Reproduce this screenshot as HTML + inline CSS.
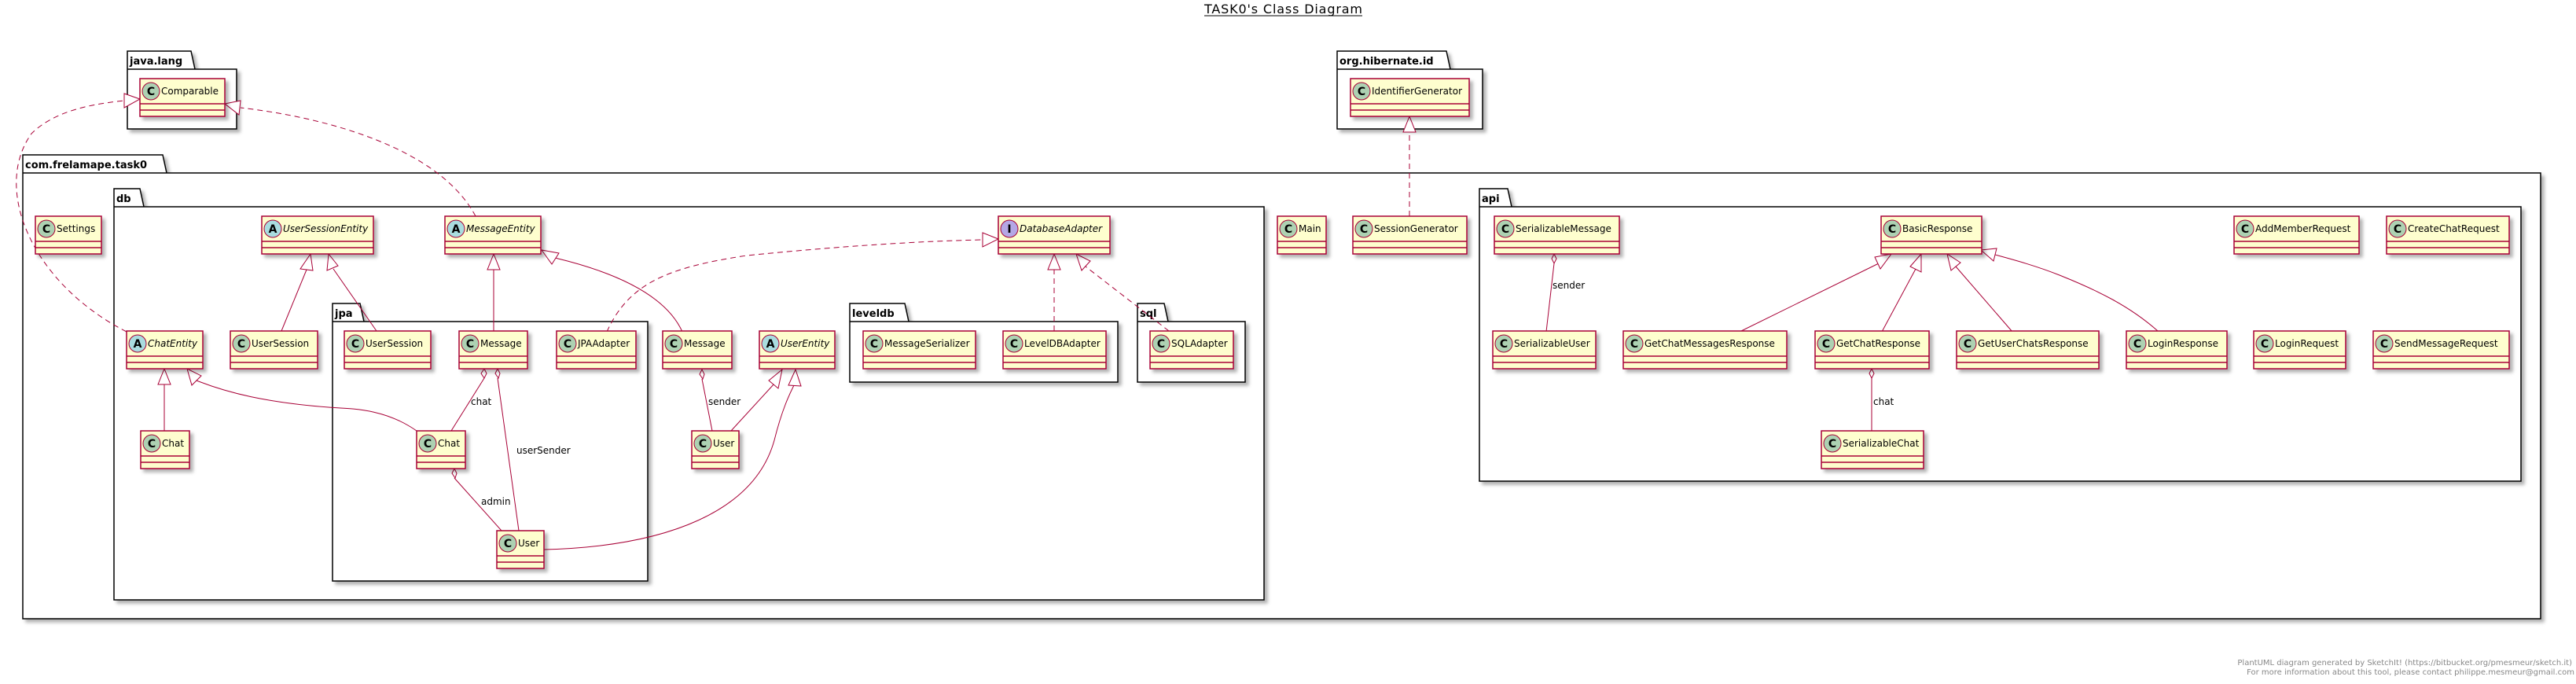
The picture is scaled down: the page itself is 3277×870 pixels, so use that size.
<!DOCTYPE html>
<html><head><meta charset="utf-8"><style>
html,body{margin:0;padding:0;background:#fff;width:3277px;height:870px;overflow:hidden}
svg text{font-family:"DejaVu Sans","Liberation Sans",sans-serif}
.cb{fill:#FEFECE;stroke:#A80036;stroke-width:1.5}
.cl{stroke:#A80036;stroke-width:1.5}
.ic{fill:#ADD1B2;stroke:#A80036;stroke-width:1}
.ia{fill:#A9DCDF;stroke:#A80036;stroke-width:1}
.ii{fill:#B4A7E5;stroke:#A80036;stroke-width:1}
.il{font-size:14px;font-weight:bold;text-anchor:middle}
.nm{font-size:12px;fill:#000}
.it{font-style:italic}
.pk{fill:#fff;stroke:#000;stroke-width:1.5}
.pn{font-size:13px;font-weight:bold}
.e{fill:none;stroke:#A80036;stroke-width:1}
.d{stroke-dasharray:7,5}
.tri{fill:#fff;stroke:#A80036;stroke-width:1}
.lb{font-size:12px}
</style></head><body>
<svg width="3277" height="870" xmlns="http://www.w3.org/2000/svg">
<defs>
<filter id="sh" x="-10%" y="-10%" width="130%" height="140%"><feDropShadow dx="4" dy="4" stdDeviation="2" flood-color="#000" flood-opacity="0.3"/></filter>
</defs>

<text x="1532" y="17" style="font-size:16px" textLength="201">TASK0's Class Diagram</text>
<line x1="1532" y1="20" x2="1733" y2="20" stroke="#000" stroke-width="1"/>

<!-- packages -->
<g filter="url(#sh)">
<path class="pk" d="M162,88 L162,65 L243,65 L248,88 Z M162,88 L301,88 L301,164 L162,164 Z"/>
<path class="pk" d="M1701,88 L1701,65 L1840,65 L1845,88 Z M1701,88 L1886,88 L1886,164 L1701,164 Z"/>
<path class="pk" d="M29,220 L29,197 L207,197 L212,220 Z M29,220 L3232,220 L3232,787 L29,787 Z"/>
</g>
<g filter="url(#sh)">
<path class="pk" d="M145,263 L145,240 L178,240 L183,263 Z M145,263 L1608,263 L1608,763 L145,763 Z"/>
<path class="pk" d="M1882,263 L1882,240 L1918,240 L1923,263 Z M1882,263 L3207,263 L3207,612 L1882,612 Z"/>
</g>
<g filter="url(#sh)">
<path class="pk" d="M423,409 L423,386 L458,386 L463,409 Z M423,409 L824,409 L824,739 L423,739 Z"/>
<path class="pk" d="M1081,409 L1081,386 L1151,386 L1156,409 Z M1081,409 L1422,409 L1422,486 L1081,486 Z"/>
<path class="pk" d="M1447,409 L1447,386 L1481,386 L1486,409 Z M1447,409 L1584,409 L1584,486 L1447,486 Z"/>
</g>
<text class="pn" x="165" y="82">java.lang</text>
<text class="pn" x="1704" y="82">org.hibernate.id</text>
<text class="pn" x="32" y="214">com.frelamape.task0</text>
<text class="pn" x="148" y="257">db</text>
<text class="pn" x="1885" y="257">api</text>
<text class="pn" x="426" y="403">jpa</text>
<text class="pn" x="1084" y="403">leveldb</text>
<text class="pn" x="1450" y="403">sql</text>

<!-- edges -->
<g>
<path class="e d" d="M161,422 C40,360 -10,240 40,170 C70,140 120,132 158,128"/>
<polygon class="tri" points="178,126 158,119 158,137"/>
<path class="e d" d="M605,275 C560,190 420,150 306,137"/>
<polygon class="tri" points="286,132 306,128 304,146"/>
<path class="e" d="M358,421 L390,343"/>
<polygon class="tri" points="395,323 382,342 398,344"/>
<path class="e" d="M479,421 L424,342"/>
<polygon class="tri" points="418,323 416,344 430,338"/>
<path class="e" d="M628,421 L628,343"/>
<polygon class="tri" points="628,323 620,343 636,343"/>
<path class="e" d="M868,422 Q840,360 706,328"/>
<polygon class="tri" points="689,318 702,336 711,322"/>
<path class="e d" d="M772,422 C800,360 850,340 950,325 C1100,310 1200,306 1250,305"/>
<polygon class="tri" points="1270,304 1250,296 1250,314"/>
<path class="e d" d="M1341,421 L1341,343"/>
<polygon class="tri" points="1341,323 1333,343 1349,343"/>
<path class="e d" d="M1487,421 L1381,339"/>
<polygon class="tri" points="1369,323 1376,344 1387,332"/>
<path class="e" d="M209,548 L209,489"/>
<polygon class="tri" points="209,469 201,489 217,489"/>
<path class="e" d="M530,548 C490,520 450,520 418,518 C340,512 290,500 250,484"/>
<polygon class="tri" points="238,469 244,490 256,478"/>
<path class="e" d="M616,481 L574,548"/>
<polygon class="tri" points="616,469 619,475 616,481 612,475"/>
<path class="e" d="M633,481 L660,675"/>
<polygon class="tri" points="633,469 636,475 634,481 630,475"/>
<path class="e" d="M578,608 L638,675"/>
<polygon class="tri" points="578,596 581,602 579,608 575,602"/>
<path class="e" d="M692,699 C850,695 960,650 985,560 C995,520 1005,500 1010,490"/>
<polygon class="tri" points="1012,470 1003,490 1019,491"/>
<path class="e" d="M930,548 L985,488"/>
<polygon class="tri" points="995,470 978,484 990,494"/>
<path class="e" d="M893,482 L906,548"/>
<polygon class="tri" points="893,470 896,476 894,482 890,476"/>
<path class="e d" d="M1793,275 L1793,168"/>
<polygon class="tri" points="1793,148 1785,168 1801,168"/>
<path class="e" d="M1977,335 L1967,422"/>
<polygon class="tri" points="1977,323 1980,329 1977,335 1974,329"/>
<path class="e" d="M2213,422 L2392,334"/>
<polygon class="tri" points="2406,323 2385,327 2392,342"/>
<path class="e" d="M2394,422 L2437,342"/>
<polygon class="tri" points="2444,323 2430,339 2444,346"/>
<path class="e" d="M2560,422 L2488,339"/>
<polygon class="tri" points="2477,323 2482,344 2494,334"/>
<path class="e" d="M2745,421 C2710,390 2670,370 2620,350 C2590,338 2560,330 2538,324"/>
<polygon class="tri" points="2520,318 2536,332 2540,316"/>
<path class="e" d="M2381,481 L2381,548"/>
<polygon class="tri" points="2381,469 2384,475 2381,481 2378,475"/>
</g>
<text class="lb" x="599" y="515">chat</text>
<text class="lb" x="657" y="577">userSender</text>
<text class="lb" x="612" y="642">admin</text>
<text class="lb" x="901" y="515">sender</text>
<text class="lb" x="1975" y="367">sender</text>
<text class="lb" x="2383" y="515">chat</text>

<!-- classes -->
<g filter="url(#sh)">
<rect class="cb" x="178" y="100" width="108" height="48"/>
<rect class="cb" x="1718" y="100" width="151" height="48"/>
<rect class="cb" x="45" y="275" width="84" height="48"/>
<rect class="cb" x="333" y="275" width="142" height="48"/>
<rect class="cb" x="566" y="275" width="122" height="48"/>
<rect class="cb" x="1270" y="275" width="142" height="48"/>
<rect class="cb" x="1625" y="275" width="62" height="48"/>
<rect class="cb" x="1721" y="275" width="145" height="48"/>
<rect class="cb" x="1901" y="275" width="159" height="48"/>
<rect class="cb" x="2393" y="275" width="128" height="48"/>
<rect class="cb" x="2842" y="275" width="159" height="48"/>
<rect class="cb" x="3036" y="275" width="156" height="48"/>
<rect class="cb" x="161" y="421" width="97" height="48"/>
<rect class="cb" x="293" y="421" width="111" height="48"/>
<rect class="cb" x="438" y="421" width="110" height="48"/>
<rect class="cb" x="584" y="421" width="87" height="48"/>
<rect class="cb" x="708" y="421" width="101" height="48"/>
<rect class="cb" x="843" y="421" width="88" height="48"/>
<rect class="cb" x="966" y="421" width="96" height="48"/>
<rect class="cb" x="1098" y="421" width="143" height="48"/>
<rect class="cb" x="1276" y="421" width="131" height="48"/>
<rect class="cb" x="1463" y="421" width="106" height="48"/>
<rect class="cb" x="1899" y="421" width="131" height="48"/>
<rect class="cb" x="2065" y="421" width="208" height="48"/>
<rect class="cb" x="2309" y="421" width="145" height="48"/>
<rect class="cb" x="2489" y="421" width="181" height="48"/>
<rect class="cb" x="2705" y="421" width="128" height="48"/>
<rect class="cb" x="2867" y="421" width="117" height="48"/>
<rect class="cb" x="3019" y="421" width="173" height="48"/>
<rect class="cb" x="179" y="548" width="62" height="48"/>
<rect class="cb" x="530" y="548" width="62" height="48"/>
<rect class="cb" x="880" y="548" width="60" height="48"/>
<rect class="cb" x="2317" y="548" width="130" height="48"/>
<rect class="cb" x="632" y="675" width="60" height="48"/>
</g>
<g class="cl">
<path d="M178,132h108M178,140h108 M1718,132h151M1718,140h151
M45,307h84M45,315h84 M333,307h142M333,315h142 M566,307h122M566,315h122 M1270,307h142M1270,315h142
M1625,307h62M1625,315h62 M1721,307h145M1721,315h145 M1901,307h159M1901,315h159 M2393,307h128M2393,315h128
M2842,307h159M2842,315h159 M3036,307h156M3036,315h156
M161,453h97M161,461h97 M293,453h111M293,461h111 M438,453h110M438,461h110 M584,453h87M584,461h87
M708,453h101M708,461h101 M843,453h88M843,461h88 M966,453h96M966,461h96 M1098,453h143M1098,461h143
M1276,453h131M1276,461h131 M1463,453h106M1463,461h106 M1899,453h131M1899,461h131 M2065,453h208M2065,461h208
M2309,453h145M2309,461h145 M2489,453h181M2489,461h181 M2705,453h128M2705,461h128 M2867,453h117M2867,461h117
M3019,453h173M3019,461h173
M179,580h62M179,588h62 M530,580h62M530,588h62 M880,580h60M880,588h60 M2317,580h130M2317,588h130
M632,707h60M632,715h60"/>
</g>
<!-- icons -->
<g>
<circle class="ic" cx="192" cy="116" r="11"/>
<circle class="ic" cx="1732" cy="116" r="11"/>
<circle class="ic" cx="59" cy="291" r="11"/>
<circle class="ia" cx="347" cy="291" r="11"/>
<circle class="ia" cx="580" cy="291" r="11"/>
<circle class="ii" cx="1284" cy="291" r="11"/>
<circle class="ic" cx="1639" cy="291" r="11"/>
<circle class="ic" cx="1735" cy="291" r="11"/>
<circle class="ic" cx="1915" cy="291" r="11"/>
<circle class="ic" cx="2407" cy="291" r="11"/>
<circle class="ic" cx="2856" cy="291" r="11"/>
<circle class="ic" cx="3050" cy="291" r="11"/>
<circle class="ia" cx="175" cy="437" r="11"/>
<circle class="ic" cx="307" cy="437" r="11"/>
<circle class="ic" cx="452" cy="437" r="11"/>
<circle class="ic" cx="598" cy="437" r="11"/>
<circle class="ic" cx="722" cy="437" r="11"/>
<circle class="ic" cx="857" cy="437" r="11"/>
<circle class="ia" cx="980" cy="437" r="11"/>
<circle class="ic" cx="1112" cy="437" r="11"/>
<circle class="ic" cx="1290" cy="437" r="11"/>
<circle class="ic" cx="1477" cy="437" r="11"/>
<circle class="ic" cx="1913" cy="437" r="11"/>
<circle class="ic" cx="2079" cy="437" r="11"/>
<circle class="ic" cx="2323" cy="437" r="11"/>
<circle class="ic" cx="2503" cy="437" r="11"/>
<circle class="ic" cx="2719" cy="437" r="11"/>
<circle class="ic" cx="2881" cy="437" r="11"/>
<circle class="ic" cx="3033" cy="437" r="11"/>
<circle class="ic" cx="193" cy="564" r="11"/>
<circle class="ic" cx="544" cy="564" r="11"/>
<circle class="ic" cx="894" cy="564" r="11"/>
<circle class="ic" cx="2331" cy="564" r="11"/>
<circle class="ic" cx="646" cy="691" r="11"/>
</g>
<g class="il">
<text x="192" y="121">C</text><text x="1732" y="121">C</text>
<text x="59" y="296">C</text><text x="347" y="296">A</text><text x="580" y="296">A</text><text x="1284" y="296">I</text>
<text x="1639" y="296">C</text><text x="1735" y="296">C</text><text x="1915" y="296">C</text><text x="2407" y="296">C</text>
<text x="2856" y="296">C</text><text x="3050" y="296">C</text>
<text x="175" y="442">A</text><text x="307" y="442">C</text><text x="452" y="442">C</text><text x="598" y="442">C</text>
<text x="722" y="442">C</text><text x="857" y="442">C</text><text x="980" y="442">A</text><text x="1112" y="442">C</text>
<text x="1290" y="442">C</text><text x="1477" y="442">C</text><text x="1913" y="442">C</text><text x="2079" y="442">C</text>
<text x="2323" y="442">C</text><text x="2503" y="442">C</text><text x="2719" y="442">C</text><text x="2881" y="442">C</text>
<text x="3033" y="442">C</text>
<text x="193" y="569">C</text><text x="544" y="569">C</text><text x="894" y="569">C</text><text x="2331" y="569">C</text>
<text x="646" y="696">C</text>
</g>
<g class="nm">
<text x="205" y="120">Comparable</text>
<text x="1745" y="120">IdentifierGenerator</text>
<text x="72" y="295">Settings</text>
<text class="it" x="360" y="295">UserSessionEntity</text>
<text class="it" x="593" y="295">MessageEntity</text>
<text class="it" x="1297" y="295">DatabaseAdapter</text>
<text x="1652" y="295">Main</text>
<text x="1748" y="295">SessionGenerator</text>
<text x="1928" y="295">SerializableMessage</text>
<text x="2420" y="295">BasicResponse</text>
<text x="2869" y="295">AddMemberRequest</text>
<text x="3063" y="295">CreateChatRequest</text>
<text class="it" x="188" y="441">ChatEntity</text>
<text x="320" y="441">UserSession</text>
<text x="465" y="441">UserSession</text>
<text x="611" y="441">Message</text>
<text x="735" y="441">JPAAdapter</text>
<text x="870" y="441">Message</text>
<text class="it" x="993" y="441">UserEntity</text>
<text x="1125" y="441">MessageSerializer</text>
<text x="1303" y="441">LevelDBAdapter</text>
<text x="1490" y="441">SQLAdapter</text>
<text x="1926" y="441">SerializableUser</text>
<text x="2092" y="441">GetChatMessagesResponse</text>
<text x="2336" y="441">GetChatResponse</text>
<text x="2516" y="441">GetUserChatsResponse</text>
<text x="2732" y="441">LoginResponse</text>
<text x="2894" y="441">LoginRequest</text>
<text x="3046" y="441">SendMessageRequest</text>
<text x="206" y="568">Chat</text>
<text x="557" y="568">Chat</text>
<text x="907" y="568">User</text>
<text x="2344" y="568">SerializableChat</text>
<text x="659" y="695">User</text>
</g>

<text x="3272" y="846" style="font-size:10px;fill:#888;text-anchor:end">PlantUML diagram generated by SketchIt! (https://bitbucket.org/pmesmeur/sketch.it)</text>
<text x="3275" y="858" style="font-size:10px;fill:#888;text-anchor:end">For more information about this tool, please contact philippe.mesmeur@gmail.com</text>
</svg>
</body></html>
